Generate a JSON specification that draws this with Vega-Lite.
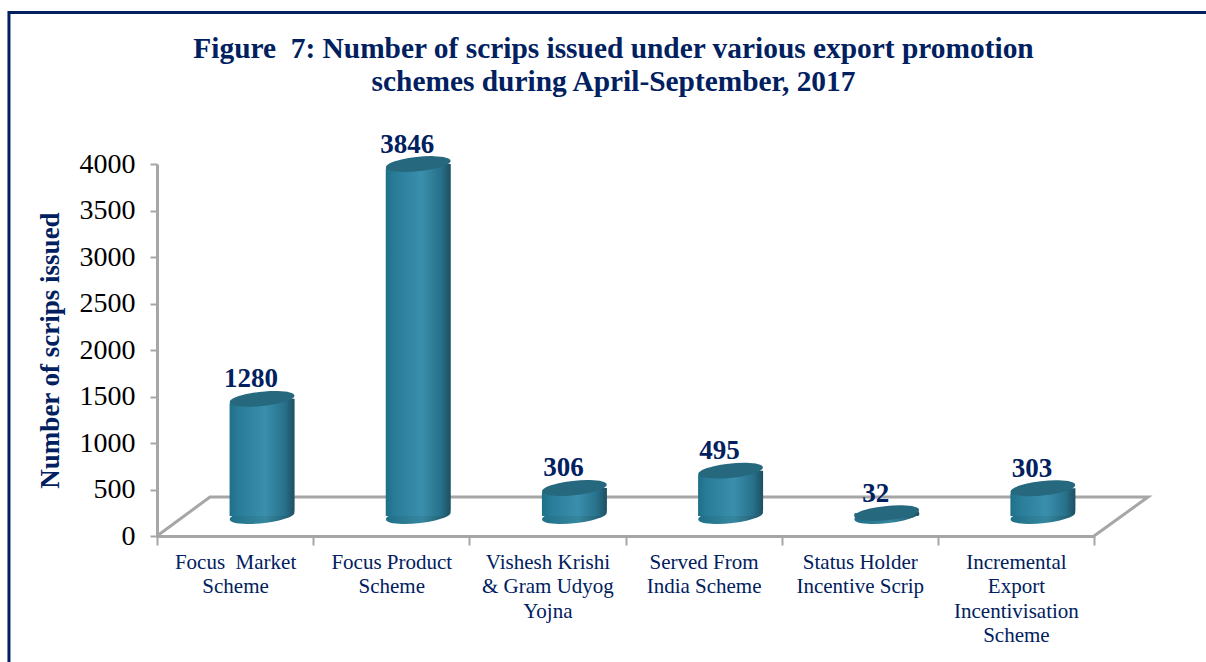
{
  "$schema": "https://vega.github.io/schema/vega-lite/v6.json",
  "width": 937,
  "height": 372,
  "autosize": {"type": "none"},
  "padding": {"left": 157, "top": 164, "right": 112, "bottom": 126},
  "background": "white",
  "config": {"view": {"stroke": null}},
  "title": {
    "text": ["Figure\u00a0 7: Number of scrips issued under various export promotion", "schemes during April-September, 2017"],
    "font": "Liberation Serif",
    "fontSize": 29.4,
    "fontWeight": "bold",
    "color": "#002060",
    "lineHeight": 33,
    "anchor": "middle",
    "dx": -12,
    "offset": -91
  },
  "datasets": {
    "scrips": [
      {"scheme": "Focus Market Scheme", "scrips": 1280},
      {"scheme": "Focus Product Scheme", "scrips": 3846},
      {"scheme": "Vishesh Krishi & Gram Udyog Yojna", "scrips": 306},
      {"scheme": "Served From India Scheme", "scrips": 495},
      {"scheme": "Status Holder Incentive Scrip", "scrips": 32},
      {"scheme": "Incremental Export Incentivisation Scheme", "scrips": 303}
    ],
    "structure": [
      {"part": "floor", "order": 1, "px": 0, "py": 0},
      {"part": "floor", "order": 2, "px": 0.339, "py": 419},
      {"part": "floor", "order": 3, "px": 6.346, "py": 419},
      {"part": "floor", "order": 4, "px": 6, "py": 0},
      {"part": "frame", "order": 1, "px": -0.948, "py": -1400},
      {"part": "frame", "order": 2, "px": -0.948, "py": 5629},
      {"part": "frame", "order": 3, "px": 6.72, "py": 5629}
    ]
  },
  "resolve": {"scale": {"x": "independent", "y": "independent"}},
  "layer": [
    {
      "data": {"name": "structure"},
      "mark": {"type": "line", "clip": false, "strokeWidth": 3},
      "encoding": {
        "x": {"field": "px", "type": "quantitative", "scale": {"domain": [0, 6], "nice": false, "zero": false}, "axis": null},
        "y": {
          "field": "py",
          "type": "quantitative",
          "scale": {"domain": [0, 4000], "nice": false},
          "axis": {
            "values": [0, 500, 1000, 1500, 2000, 2500, 3000, 3500, 4000],
            "format": "d",
            "grid": false,
            "title": "Number of scrips issued",
            "titleFont": "Liberation Serif",
            "titleFontSize": 27,
            "titleFontWeight": "bold",
            "titleColor": "#002060",
            "titlePadding": 15,
            "labelFont": "Liberation Serif",
            "labelFontSize": 28,
            "labelColor": "#000000",
            "labelPadding": 15,
            "tickSize": 7,
            "tickWidth": 2,
            "tickColor": "#a6a6a6",
            "domainColor": "#a6a6a6",
            "domainWidth": 3
          }
        },
        "detail": {"field": "part"},
        "order": {"field": "order"},
        "color": {"field": "part", "type": "nominal", "scale": {"domain": ["floor", "frame"], "range": ["#a6a6a6", "#002060"]}, "legend": null}
      }
    },
    {
      "data": {"name": "scrips"},
      "encoding": {
        "x": {
          "field": "scheme",
          "type": "nominal",
          "sort": null,
          "scale": {"paddingInner": 0, "paddingOuter": 0},
          "axis": {
            "title": null,
            "labelAngle": 0,
            "labelFont": "Liberation Serif",
            "labelFontSize": 21,
            "labelColor": "#002060",
            "labelLineHeight": 24.5,
            "labelPadding": 6,
            "labelLimit": 300,
            "tickBand": "extent",
            "tickSize": 9,
            "tickWidth": 2,
            "tickColor": "#a6a6a6",
            "domainColor": "#a6a6a6",
            "domainWidth": 3,
            "labelExpr": "{'Focus Market Scheme':['Focus\u00a0 Market','Scheme'],'Focus Product Scheme':['Focus Product','Scheme'],'Vishesh Krishi & Gram Udyog Yojna':['Vishesh Krishi','& Gram Udyog','Yojna'],'Served From India Scheme':['Served From','India Scheme'],'Status Holder Incentive Scrip':['Status Holder','Incentive Scrip'],'Incremental Export Incentivisation Scheme':['Incremental','Export','Incentivisation','Scheme']}[datum.value]"
          }
        }
      },
      "layer": [
        {
          "mark": {
            "type": "point",
            "shape": "M-0.9945,0.1045 A1,0.22,-6,1,1,0.9945,-0.1045 A1,0.22,-6,1,1,-0.9945,0.1045 Z",
            "size": 4225,
            "filled": true,
            "opacity": 1,
            "xOffset": 27,
            "yOffset": -20,
            "fill": {"gradient": "linear", "x1": 0, "x2": 1, "y1": 0, "y2": 0, "stops": [
              {"offset": 0, "color": "#1f6f88"},
              {"offset": 0.55, "color": "#35879f"},
              {"offset": 1, "color": "#1e5566"}
            ]}
          },
          "encoding": {
            "y": {"datum": 0, "type": "quantitative", "scale": {"domain": [0, 4065], "nice": false}, "axis": null}
          }
        },
        {
          "mark": {
            "type": "bar",
            "size": 65,
            "clip": false,
            "xOffset": 27,
            "yOffset": -20,
            "y2Offset": -20,
            "cornerRadiusTopLeft": 6,
            "cornerRadiusBottomRight": 6,
            "fill": {"gradient": "linear", "x1": 0, "x2": 1, "y1": 0, "y2": 0, "stops": [
              {"offset": 0, "color": "#1f6f88"},
              {"offset": 0.15, "color": "#2a7d99"},
              {"offset": 0.55, "color": "#3a8fad"},
              {"offset": 0.85, "color": "#27708a"},
              {"offset": 1, "color": "#1e4f60"}
            ]}
          },
          "encoding": {
            "y": {"field": "scrips", "type": "quantitative", "scale": {"domain": [0, 4065], "nice": false}, "axis": null},
            "y2": {"datum": 0}
          }
        },
        {
          "mark": {
            "type": "point",
            "shape": "M-0.9945,0.1045 A1,0.22,-6,1,1,0.9945,-0.1045 A1,0.22,-6,1,1,-0.9945,0.1045 Z",
            "size": 4225,
            "filled": true,
            "opacity": 1,
            "xOffset": 27,
            "yOffset": -20,
            "fill": "#26697f"
          },
          "encoding": {
            "y": {"field": "scrips", "type": "quantitative", "scale": {"domain": [0, 4065], "nice": false}, "axis": null}
          }
        },
        {
          "mark": {
            "type": "text",
            "font": "Liberation Serif",
            "fontSize": 27,
            "fontWeight": "bold",
            "color": "#002060",
            "xOffset": 16,
            "yOffset": -39.5
          },
          "encoding": {
            "y": {"field": "scrips", "type": "quantitative", "scale": {"domain": [0, 4065], "nice": false}, "axis": null},
            "text": {"field": "scrips", "type": "quantitative", "format": "d"}
          }
        }
      ]
    }
  ]
}
